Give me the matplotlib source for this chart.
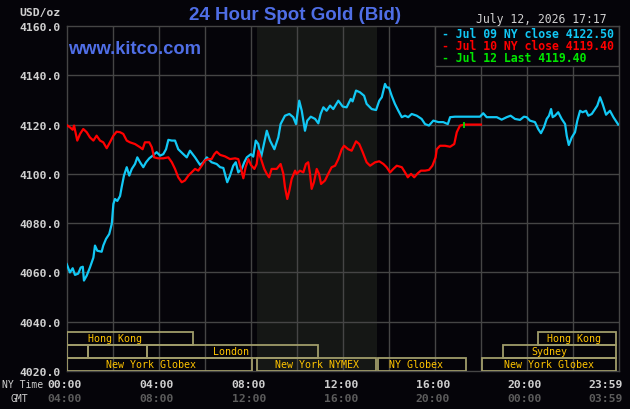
#!/usr/bin/env python3
"""24 hour spot gold chart, kitco style."""

import matplotlib
matplotlib.use('Agg')
import matplotlib.pyplot as plt
from matplotlib.patches import Rectangle

# --- data -----------------------------------------------------------------
blue_hours = [0.00, 0.14, 0.26, 0.36, 0.50, 0.61, 0.70, 0.75, 0.87, 1.01, 1.16, 1.23, 1.33, 1.52,
              1.59, 1.71, 1.85, 1.96, 2.03, 2.10, 2.20, 2.32, 2.39, 2.49, 2.61, 2.72, 2.83, 2.97,
              3.07, 3.19, 3.33, 3.45, 3.59, 3.74, 3.91, 4.06, 4.20, 4.32, 4.42, 4.57, 4.71, 4.85,
              5.07, 5.22, 5.36, 5.58, 5.80, 5.94, 6.09, 6.16, 6.30, 6.52, 6.67, 6.81, 6.98, 7.10,
              7.24, 7.35, 7.46, 7.61, 7.72, 7.83, 8.01, 8.11, 8.22, 8.33, 8.45, 8.59, 8.70, 8.84,
              9.03, 9.20, 9.30, 9.49, 9.68, 9.85, 9.97, 10.07, 10.11, 10.22, 10.29, 10.36, 10.46,
              10.61, 10.80, 10.94, 11.04, 11.16, 11.30, 11.45, 11.59, 11.81, 12.00, 12.17, 12.35,
              12.43, 12.58, 12.75, 12.93, 13.04, 13.26, 13.45, 13.59, 13.70, 13.84, 13.91, 14.01,
              14.13, 14.27, 14.42, 14.57, 14.71, 14.85, 15.00, 15.22, 15.43, 15.58, 15.75, 15.94,
              16.16, 16.37, 16.57, 16.67, 16.88, 17.97, 18.11, 18.26, 18.48, 18.70, 18.91, 19.13,
              19.30, 19.49, 19.71, 19.88, 20.00, 20.14, 20.36, 20.50, 20.62, 20.75, 20.87, 20.97,
              21.06, 21.13, 21.23, 21.37, 21.52, 21.67, 21.74, 21.83, 21.96, 22.10, 22.20, 22.32,
              22.43, 22.58, 22.68, 22.83, 22.97, 23.07, 23.19, 23.30, 23.45, 23.62, 23.77, 23.91,
              23.98]
blue_prices = [4063.4, 4060.0, 4061.7, 4059.0, 4059.5, 4062.0, 4062.3, 4056.7, 4058.7, 4062.0,
               4066.0, 4070.9, 4068.8, 4068.4, 4070.9, 4073.6, 4075.6, 4079.7, 4087.8, 4089.8,
               4089.0, 4091.0, 4094.6, 4099.3, 4102.7, 4099.3, 4102.0, 4104.0, 4106.7, 4104.7,
               4102.7, 4104.7, 4106.3, 4107.4, 4108.8, 4107.4, 4108.0, 4110.0, 4113.8, 4113.5,
               4113.5, 4110.0, 4108.0, 4106.7, 4109.4, 4106.7, 4103.6, 4104.7, 4106.7, 4106.0,
               4104.7, 4104.0, 4102.7, 4102.4, 4096.6, 4099.3, 4103.3, 4104.7, 4100.6, 4102.0,
               4104.7, 4106.7, 4108.0, 4107.0, 4113.5, 4112.1, 4106.7, 4112.8, 4117.5, 4113.5,
               4110.0, 4114.8, 4120.2, 4123.6, 4124.3, 4123.0, 4120.2, 4127.0, 4129.7, 4125.6,
               4121.6, 4117.5, 4121.6, 4123.2, 4122.3, 4120.5, 4124.3, 4127.0, 4125.6, 4127.7,
               4126.3, 4129.7, 4127.3, 4127.0, 4130.4, 4129.4, 4133.8, 4133.1, 4131.7, 4128.4,
               4126.3, 4125.9, 4129.7, 4131.1, 4136.5, 4135.1, 4135.0, 4131.7, 4128.4, 4125.6,
               4123.0, 4123.6, 4123.0, 4124.3, 4123.6, 4122.3, 4120.2, 4119.6, 4121.6, 4121.0,
               4121.0, 4120.2, 4123.0, 4123.2, 4123.2, 4124.6, 4123.0, 4123.0, 4123.0, 4122.0,
               4123.0, 4123.6, 4122.3, 4121.9, 4123.2, 4123.0, 4121.6, 4121.0, 4118.2, 4116.5,
               4118.9, 4122.3, 4123.6, 4126.3, 4123.0, 4123.6, 4125.0, 4122.3, 4120.2, 4115.5,
               4111.7, 4114.8, 4116.9, 4121.6, 4125.6, 4125.0, 4125.6, 4123.6, 4124.3, 4126.3,
               4127.7, 4131.1, 4128.4, 4124.0, 4125.6, 4123.0, 4121.0, 4120.0]

red_hours = [0.00, 0.14, 0.26, 0.32, 0.46, 0.58, 0.72, 0.87, 1.01, 1.16, 1.30, 1.45, 1.59, 1.74,
             1.88, 2.03, 2.17, 2.32, 2.46, 2.61, 2.75, 2.97, 3.19, 3.30, 3.40, 3.59, 3.70, 3.80,
             3.98, 4.20, 4.42, 4.57, 4.71, 4.85, 5.00, 5.14, 5.29, 5.43, 5.58, 5.72, 5.87, 6.01,
             6.16, 6.30, 6.42, 6.52, 6.67, 6.88, 7.10, 7.32, 7.46, 7.58, 7.68, 7.78, 7.90, 8.01,
             8.16, 8.26, 8.33, 8.45, 8.59, 8.70, 8.80, 8.91, 9.13, 9.30, 9.42, 9.49, 9.59, 9.68,
             9.78, 9.93, 10.00, 10.14, 10.29, 10.40, 10.50, 10.58, 10.65, 10.75, 10.87, 10.97,
             11.06, 11.23, 11.37, 11.52, 11.67, 11.81, 11.96, 12.06, 12.24, 12.39, 12.58, 12.72,
             12.87, 13.04, 13.19, 13.41, 13.59, 13.77, 13.91, 14.06, 14.20, 14.35, 14.57, 14.71,
             14.83, 14.97, 15.11, 15.26, 15.40, 15.58, 15.75, 15.90, 16.04, 16.09, 16.23, 16.45,
             16.67, 16.85, 16.96, 17.10, 17.29, 18.01]
red_prices = [4119.8, 4118.9, 4117.9, 4119.6, 4113.5, 4116.2, 4118.2, 4116.9, 4114.8, 4113.5,
              4115.5, 4113.5, 4112.8, 4110.4, 4112.8, 4115.5, 4117.1, 4116.9, 4116.2, 4113.5,
              4112.8, 4112.1, 4110.8, 4110.0, 4112.8, 4112.8, 4110.8, 4106.7, 4106.3, 4106.3,
              4106.7, 4104.7, 4102.0, 4098.6, 4096.6, 4097.3, 4099.3, 4100.6, 4102.0, 4101.3,
              4103.3, 4105.4, 4106.0, 4106.0, 4108.0, 4109.0, 4107.7, 4107.1, 4106.0, 4106.3,
              4106.0, 4102.0, 4098.2, 4102.7, 4106.0, 4103.6, 4102.0, 4104.0, 4109.4, 4106.0,
              4102.0, 4100.0, 4098.6, 4102.0, 4102.0, 4104.0, 4100.0, 4094.6, 4089.8, 4093.2,
              4097.9, 4101.3, 4100.0, 4101.3, 4100.6, 4104.0, 4104.7, 4100.0, 4093.9, 4096.6,
              4102.0, 4100.0, 4095.9, 4097.3, 4100.0, 4102.7, 4103.3, 4106.0, 4110.0, 4111.4,
              4110.0, 4109.4, 4113.2, 4112.1, 4108.8, 4104.7, 4103.3, 4104.7, 4105.1, 4104.0,
              4102.7, 4100.6, 4102.0, 4103.3, 4102.7, 4100.6, 4098.6, 4100.0, 4098.6, 4100.2,
              4101.3, 4101.3, 4101.6, 4103.3, 4106.7, 4110.0, 4111.4, 4111.4, 4111.0, 4112.1,
              4116.9, 4119.6, 4120.0, 4120.0]

last_hour = 17.28
last_price = 4120.0

legend_labels = ['Jul 09 NY close 4122.50', 'Jul 10 NY close 4119.40', 'Jul 12 Last 4119.40']
date_label = 'July 12, 2026 17:17'

y_ticks = [4020, 4040, 4060, 4080, 4100, 4120, 4140, 4160]
x_ticks = [0, 4, 8, 12, 16, 20, 23.5]
ny_labels = ['00:00', '04:00', '08:00', '12:00', '16:00', '20:00', '23:59']
gmt_labels = ['04:00', '08:00', '12:00', '16:00', '20:00', '00:00', '03:59']

nymex_hours = (8.26, 13.5)

# (row, start, end, label, label position) -- row 0 is the top row
sessions = [
    (0, 0.0, 5.48, 'Hong Kong', 2.1),
    (0, 20.5, 23.9, 'Hong Kong', 22.06),
    (1, 0.0, 0.94, '', 0.0),
    (1, 0.94, 3.48, '', 0.0),
    (1, 3.48, 10.94, 'London', 7.14),
    (1, 18.98, 23.9, 'Sydney', 20.97),
    (2, 0.0, 8.04, 'New York Globex', 3.67),
    (2, 8.26, 13.45, 'New York NYMEX', 10.88),
    (2, 13.52, 17.35, 'NY Globex', 15.19),
    (2, 18.04, 23.9, 'New York Globex', 20.97),
]
row_edges = [4036.0, 4030.7, 4025.4, 4020.0]

# --- style ----------------------------------------------------------------
BG = '#050409'
GRID = '#454545'
SHADE = '#151715'
CYAN = '#12c8f5'
RED = '#ff0000'
GREEN = '#00e800'
BLUE_TXT = '#4f6ee6'
LIGHT = '#d0d0d0'
DIM = '#5c5c5c'
SESSION_TXT = '#ffc400'
SESSION_EDGE = '#a09c6a'
MONO = 'DejaVu Sans Mono'
SANS = 'Liberation Sans'

W, H = 630, 410


def px(x, y):
    return x / W, 1 - y / H


fig = plt.figure(figsize=(6.3, 4.1), dpi=100, facecolor=BG)
ax = fig.add_axes([66.7 / W, 38 / H, 552 / W, 345 / H], facecolor=BG)
ax.set_xlim(0, 24)
ax.set_ylim(4020, 4160)

# grid and shaded NYMEX session
for h in range(2, 24, 2):
    ax.axvline(h, color=GRID, lw=1, zorder=1)
for v in y_ticks[1:-1]:
    ax.axhline(v, color=GRID, lw=1, zorder=1)
ax.axvspan(*nymex_hours, color=SHADE, zorder=0, lw=0)
for s in ax.spines.values():
    s.set_color(GRID)
    s.set_linewidth(1)

ax.set_yticks(y_ticks)
ax.set_yticklabels([f'{v:.1f}' for v in y_ticks], family=MONO, weight='bold',
                   fontsize=8.2, color=LIGHT, va='center_baseline')
ax.set_xticks([])
ax.tick_params(axis='y', length=0, pad=4)

# session boxes
for row, start, end, label, lx in sessions:
    top, bottom = row_edges[row], row_edges[row + 1]
    ax.add_patch(Rectangle((start, bottom), end - start, top - bottom, fill=False,
                           edgecolor=SESSION_EDGE, lw=1.3, zorder=3))
    if label:
        ax.text(lx, (top + bottom) / 2, label, ha='center', va='center', family=MONO,
                fontsize=7.2, color=SESSION_TXT, zorder=4)

# price lines
ax.plot(blue_hours, blue_prices, color=CYAN, lw=1.6, zorder=5)
ax.plot(red_hours, red_prices, color=RED, lw=1.6, zorder=5)
ax.plot([last_hour], [last_price], marker='|', ms=4, mew=1.2, color=GREEN, zorder=6)

# legend box, top right
ax.add_patch(Rectangle((16, 4143.9), 8, 16.1, facecolor=BG, edgecolor=GRID, lw=1, zorder=2))
for i, (txt, col) in enumerate(zip(legend_labels, [CYAN, RED, GREEN])):
    fig.text(*px(442, 34 + 12.5 * i), '- ' + txt, family=MONO, weight='bold',
             fontsize=8.3, color=col, va='center', ha='left')

# x labels, two rows
for h, ny, gmt in zip(x_ticks, ny_labels, gmt_labels):
    x = (66.7 + h * 23 - 2) / W
    fig.text(x, 1 - 384.5 / H, ny, family=MONO, weight='bold', fontsize=8.2, color=LIGHT,
             ha='center', va='center_baseline')
    fig.text(x, 1 - 398.5 / H, gmt, family=MONO, weight='bold', fontsize=8.2, color=DIM,
             ha='center', va='center_baseline')
fig.text(*px(2, 384.5), 'NY Time', family=MONO, fontsize=7, color=LIGHT, ha='left',
         va='center_baseline')
fig.text(*px(19, 398.5), 'GMT', family=MONO, fontsize=7, color=LIGHT, ha='center',
         va='center_baseline')

# titles and headers
fig.text(*px(61, 13), 'USD/oz', family=MONO, weight='bold', fontsize=8.2, color=LIGHT,
         ha='right', va='center')
fig.text(*px(295, 15.5), '24 Hour Spot Gold (Bid)', family=SANS, weight='bold', fontsize=13.5,
         color=BLUE_TXT, ha='center', va='center')
fig.text(*px(68, 49), 'www.kitco.com', family=SANS, weight='bold', fontsize=13.2,
         color=BLUE_TXT, ha='left', va='center')
fig.text(*px(607, 20), date_label, family=MONO, fontsize=8.3, color=LIGHT,
         ha='right', va='center')

fig.savefig('out.png', dpi=100, facecolor=BG)
